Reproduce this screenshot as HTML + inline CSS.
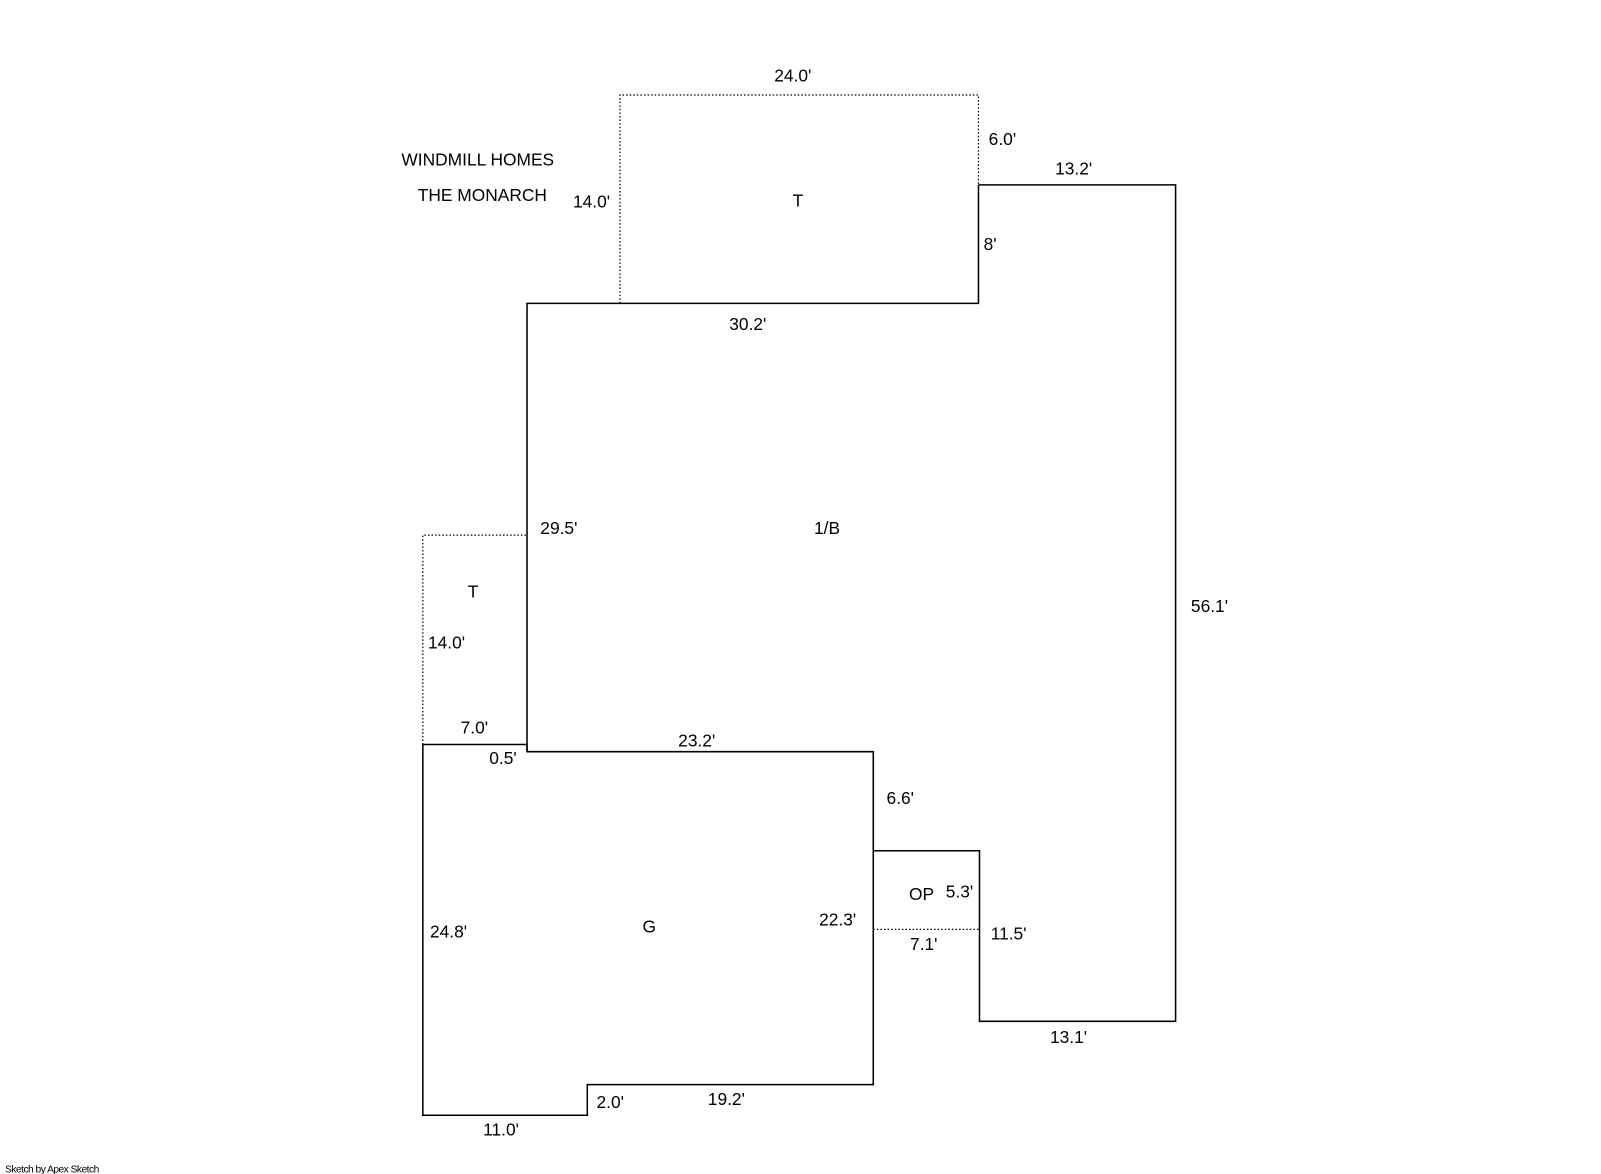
<!DOCTYPE html>
<html><head><meta charset="utf-8"><style>
html,body{margin:0;padding:0;background:#fff;}
svg{display:block;}
text{font-family:"Liberation Sans","DejaVu Sans",sans-serif;font-size:17px;fill:#000;}
</style></head><body>
<svg width="1601" height="1174" viewBox="0 0 1567.5 1149.5" preserveAspectRatio="none" xmlns="http://www.w3.org/2000/svg">
<g fill="none" stroke="#000" stroke-width="1.5">
<polyline points="958,181 1151,181 1151,1000 959,1000 959,833 855,833 855,736 516,736 516,297 958,297 958,181"/>
<polyline points="414,729 516,729 516,736"/>
<polyline points="414,729 414,1092 575,1092 575,1062 855,1062 855,736"/>
</g>
<g fill="none" stroke="#000" stroke-width="1.2" stroke-dasharray="1.5,2">
<polyline points="607,297 607,93 958,93 958,181"/>
<polyline points="414,729 414,524 516,524"/>
<line x1="855" y1="910" x2="959" y2="910"/>
</g>
<text x="393" y="162">WINDMILL HOMES</text>
<text x="409" y="197">THE MONARCH</text>
<text x="758" y="80">24.0'</text>
<text x="968" y="142">6.0'</text>
<text x="1033" y="171">13.2'</text>
<text x="561" y="203">14.0'</text>
<text x="776" y="202">T</text>
<text x="963" y="245">8'</text>
<text x="714" y="323">30.2'</text>
<text x="529" y="523">29.5'</text>
<text x="797" y="523">1/B</text>
<text x="1166" y="599">56.1'</text>
<text x="458" y="585">T</text>
<text x="419" y="635">14.0'</text>
<text x="451" y="718">7.0'</text>
<text x="479" y="748">0.5'</text>
<text x="664" y="731">23.2'</text>
<text x="868" y="787">6.6'</text>
<text x="890" y="881">OP</text>
<text x="926" y="879">5.3'</text>
<text x="802" y="906">22.3'</text>
<text x="970" y="920">11.5'</text>
<text x="891" y="930">7.1'</text>
<text x="421" y="918">24.8'</text>
<text x="629" y="913">G</text>
<text x="1028" y="1021">13.1'</text>
<text x="584" y="1085">2.0'</text>
<text x="693" y="1082">19.2'</text>
<text x="473" y="1112">11.0'</text>
<text x="5" y="1148" style="font-size:10px;letter-spacing:-0.5px">Sketch by Apex Sketch</text>
</svg>
</body></html>
